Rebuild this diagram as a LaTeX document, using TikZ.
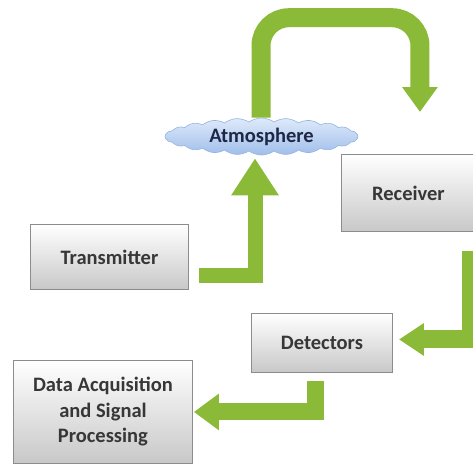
\documentclass[tikz,border=0pt]{standalone}
\usepackage{fontspec}
\setmainfont{Carlito}
\usetikzlibrary{arrows.meta,shapes.symbols}

\definecolor{flowgreen}{RGB}{138,186,56}
\definecolor{boxedge}{RGB}{140,140,140}
\definecolor{boxbottom}{RGB}{200,200,200}
\definecolor{labelgray}{RGB}{55,55,55}
\definecolor{cloudtop}{RGB}{222,234,250}
\definecolor{cloudbottom}{RGB}{160,190,235}
\definecolor{cloudedge}{RGB}{150,180,225}
\definecolor{cloudtext}{RGB}{30,40,70}

\tikzset{
  block/.style={draw=boxedge, line width=0.9pt, top color=white, bottom color=boxbottom,
    font=\fontsize{20.5}{25.5}\selectfont\bfseries, text=labelgray, align=center,
    inner sep=0pt, anchor=north west},
  flow/.style={draw=flowgreen, line join=miter},
}

\begin{document}
\begin{tikzpicture}[x=1pt, y=-1pt]
  \clip (0,0) rectangle (473,464);
  \fill[white] (0,0) rectangle (473,464);

  % blocks (x from left, y from top)
  \node[block, minimum width=158pt, minimum height=65pt] (tx) at (30,224) {Transmitter};
  \node[block, minimum width=140pt, minimum height=77pt] (rx) at (341,154) {\hspace*{-6pt}Receiver};
  \node[block, minimum width=141pt, minimum height=59pt] (det) at (251,313) {Detectors};
  \node[block, minimum width=179pt, minimum height=103pt] (daq) at (13,360)
    {Data Acquisition\\and Signal\\Processing};

  % the atmosphere cloud
  \node[cloud, cloud puffs=24, cloud puff arc=70, aspect=5.2,
        minimum width=193pt, minimum height=37pt, inner sep=0pt,
        draw=cloudedge, line width=0.6pt, top color=cloudtop, bottom color=cloudbottom,
        font=\fontsize{20.5}{24}\selectfont\bfseries, text=cloudtext]
        (atm) at (261.5,136.5) {Atmosphere};

  % transmitter -> atmosphere
  \draw[flow, line width=15pt, -{Triangle[width=45pt,length=37pt]}]
    ([xshift=10pt,yshift=-18.5pt]tx.east) -| ([xshift=-6.5pt,yshift=-3pt]atm.south);

  % atmosphere -> receiver
  \draw[flow, line width=19pt, rounded corners=28pt, -{Triangle[width=34pt,length=25pt]}]
    ([xshift=-0.5pt]atm.north) -- ++(0,-100) -| ([xshift=8.5pt,yshift=42pt]rx.north);

  % receiver -> detectors
  \draw[flow, line width=18pt, -{Triangle[width=31pt,length=25pt]}]
    ([xshift=59.5pt,yshift=-19pt]rx.south) |- ([xshift=6pt,yshift=3.5pt]det.east);

  % detectors -> data acquisition
  \draw[flow, line width=17pt, -{Triangle[width=35pt,length=25pt]}]
    ([xshift=-6.5pt,yshift=-8pt]det.south) |- ([xshift=1pt]daq.east);
\end{tikzpicture}
\end{document}
